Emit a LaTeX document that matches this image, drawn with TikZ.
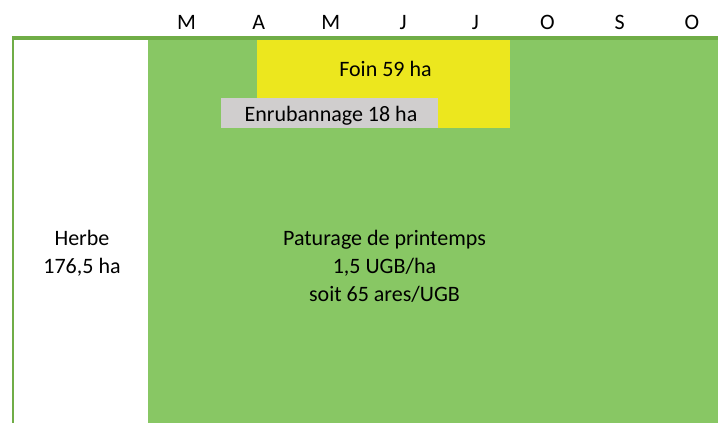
\documentclass[tikz,border=0pt]{standalone}
\usepackage{fontspec}
\setmainfont{Carlito}
\definecolor{vertpre}{HTML}{88C764}
\definecolor{vertbord}{HTML}{70AD47}
\definecolor{jaunefoin}{HTML}{ECE71E}
\definecolor{grisenrub}{HTML}{D0CECE}
\begin{document}
\begin{tikzpicture}[x=1pt,y=-1pt,
 zone/.style={shape=rectangle, inner sep=0pt, outer sep=0pt, draw=none, anchor=north west},
 txt/.style={font=\fontsize{22}{28}\selectfont, inner sep=0pt, anchor=base, align=center}]
 \useasboundingbox (0,0) rectangle (718,423);

 % months
 \foreach \m [count=\i from 0] in {M,A,M,J,J,O,S,O}
 \node[txt] (mois\i) at (186.5+72.2*\i, 30) {\m};

 % surfaces
 \node[zone, fill=vertpre, minimum width=570, minimum height=383] (paturage) at (148,40) {};
 \node[zone, fill=jaunefoin, minimum width=253, minimum height=88] (foin) at (257,40) {};
 \node[zone, fill=grisenrub, minimum width=217, minimum height=30] (enrub) at (221,98) {};

 % frame
 \fill[vertbord] (12,36) rectangle (718,40);
 \fill[vertbord] (12,36) rectangle (14,423);

 % labels (base = last line)
 \node[txt] (tfoin) at (385.5,76) {Foin 59 ha};
 \node[txt] (tenrub) at (331,121) {Enrubannage 18 ha};
 \node[txt] (therbe) at (82,273) {Herbe\\176,5 ha};
 \node[txt] (tpat) at (384.5,301) {Paturage de printemps\\1,5 UGB/ha\\soit 65 ares/UGB};
\end{tikzpicture}
\end{document}
